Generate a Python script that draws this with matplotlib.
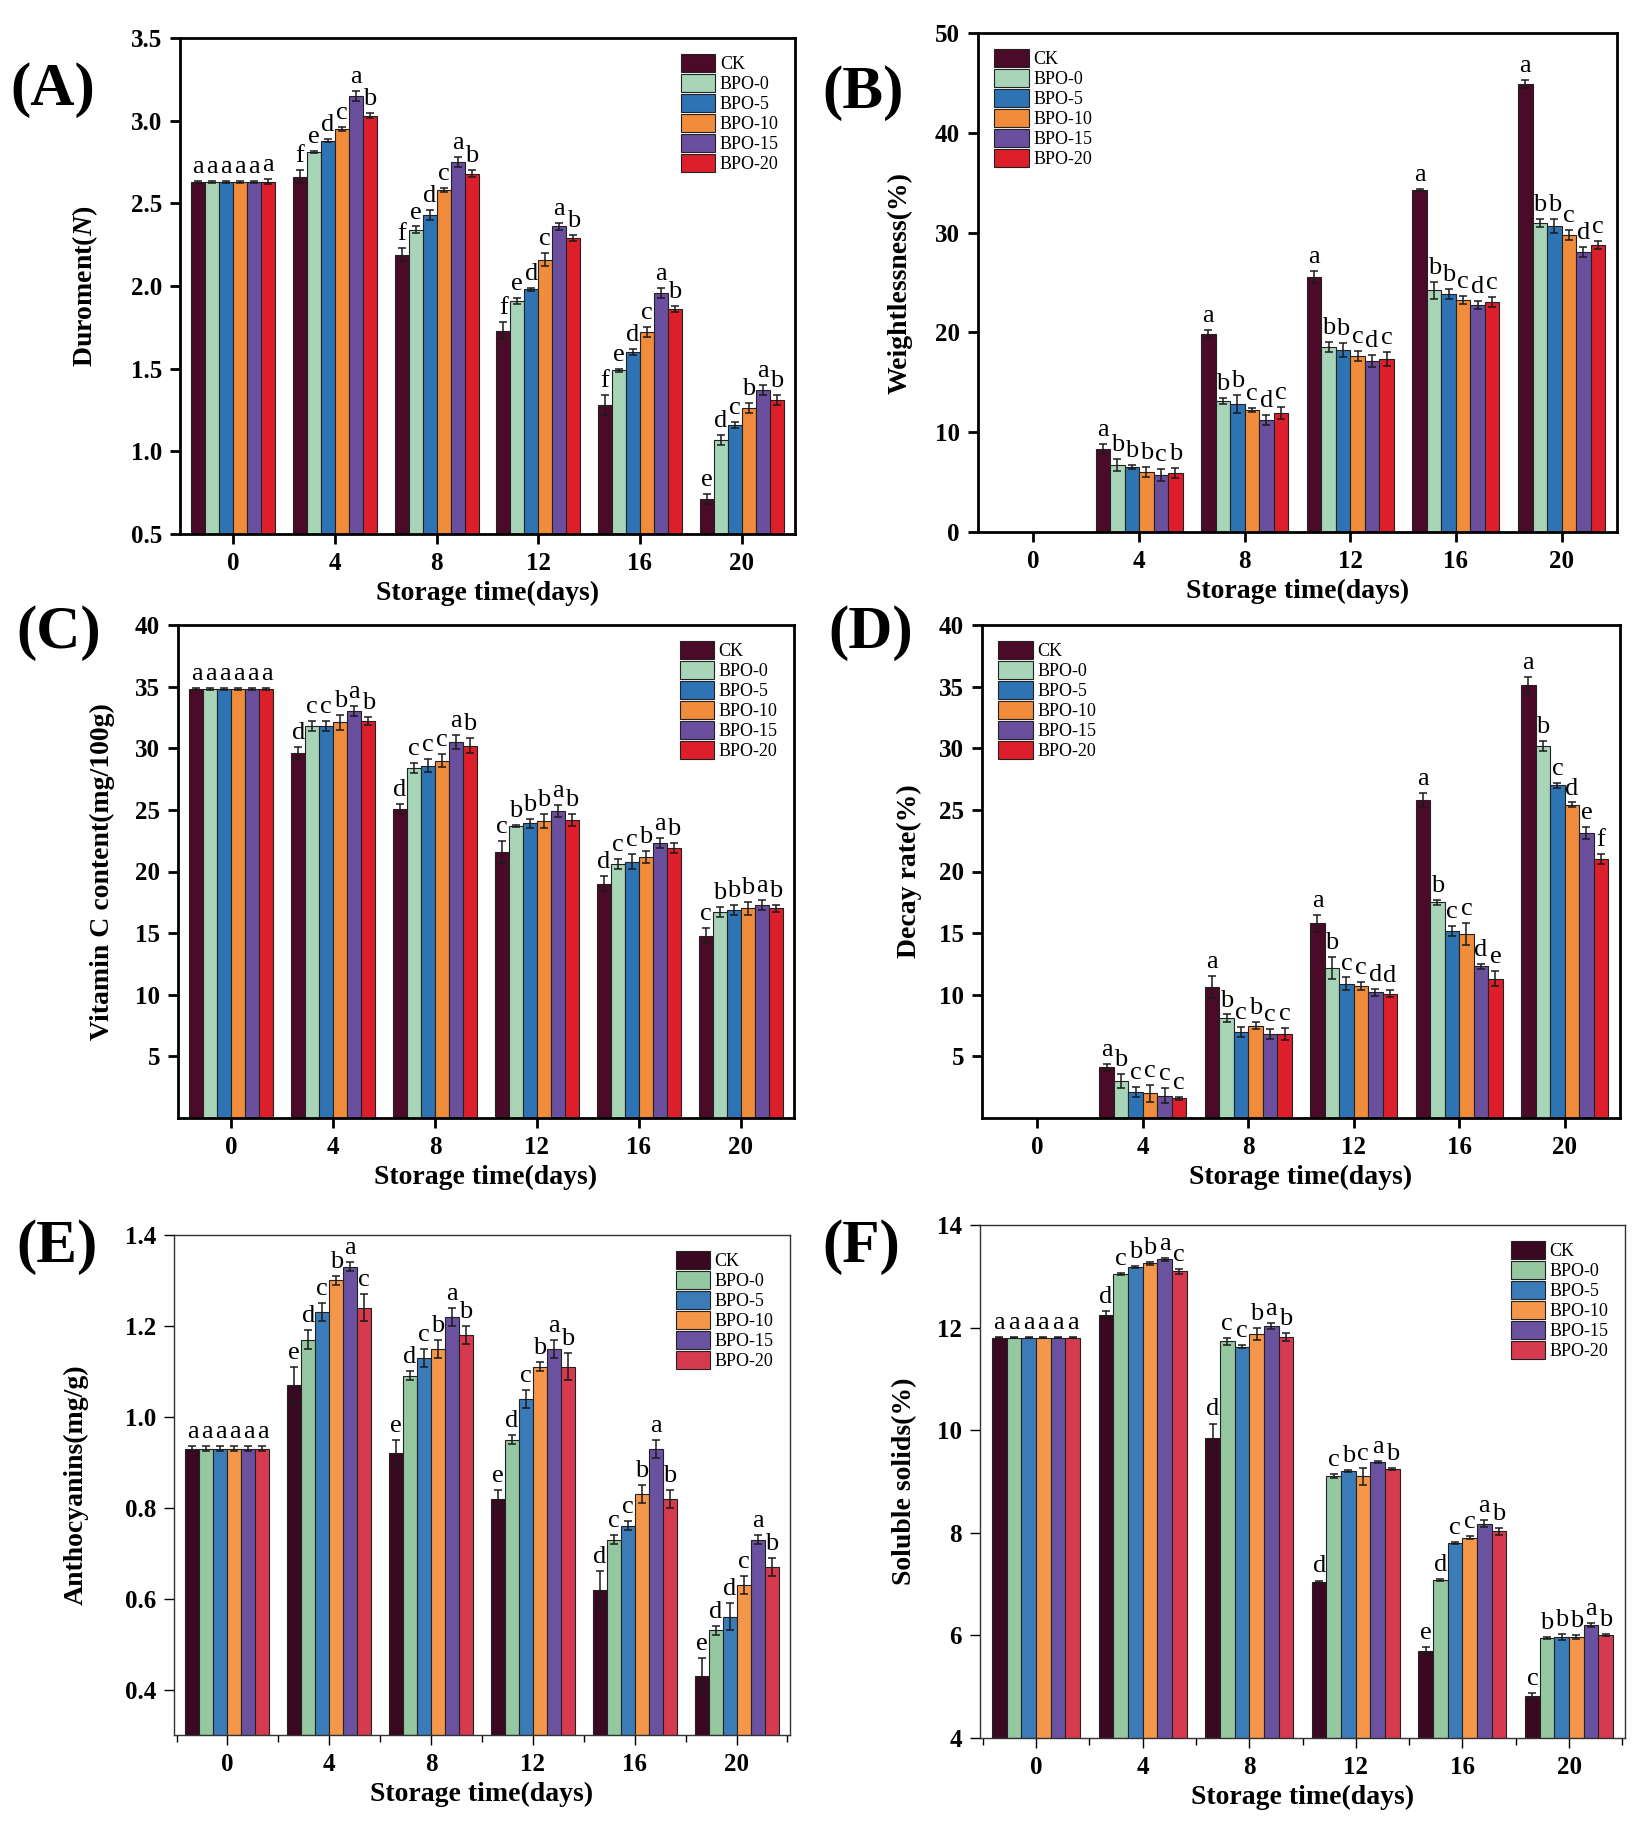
import matplotlib

matplotlib.use("Agg")
import matplotlib.pyplot as plt
import numpy as np
from matplotlib.ticker import FixedLocator

plt.rcParams["font.family"] = ["Liberation Serif", "DejaVu Serif"]
plt.rcParams["mathtext.fontset"] = "custom"
plt.rcParams["mathtext.rm"] = "Liberation Serif:bold"
plt.rcParams["mathtext.it"] = "Liberation Serif:italic:bold"
plt.rcParams["mathtext.bf"] = "Liberation Serif:bold"

DAYS = [0, 4, 8, 12, 16, 20]
GROUPS = ["CK", "BPO-0", "BPO-5", "BPO-10", "BPO-15", "BPO-20"]

# rows = days, columns = groups
firm = [[2.63, 2.63, 2.63, 2.63, 2.63, 2.63],
        [2.66, 2.81, 2.88, 2.95, 3.15, 3.03],
        [2.19, 2.34, 2.43, 2.58, 2.75, 2.68],
        [1.73, 1.91, 1.98, 2.16, 2.36, 2.29],
        [1.28, 1.49, 1.60, 1.72, 1.96, 1.86],
        [0.71, 1.07, 1.16, 1.26, 1.37, 1.31]]
firm_err = [[0.005, 0.005, 0.005, 0.005, 0.005, 0.015],
            [0.04, 0.005, 0.01, 0.01, 0.03, 0.015],
            [0.04, 0.02, 0.03, 0.01, 0.03, 0.02],
            [0.05, 0.02, 0.01, 0.04, 0.02, 0.02],
            [0.06, 0.01, 0.02, 0.03, 0.03, 0.02],
            [0.03, 0.03, 0.02, 0.03, 0.03, 0.03]]
firm_let = ["aaaaaa", "fedcab", "fedcab", "fedcab", "fedcab", "edcbab"]

weight = [[0, 0, 0, 0, 0, 0],
          [8.3, 6.7, 6.5, 6.0, 5.7, 5.9],
          [19.8, 13.1, 12.8, 12.2, 11.2, 11.9],
          [25.6, 18.5, 18.2, 17.6, 17.1, 17.3],
          [34.3, 24.2, 23.8, 23.2, 22.7, 23.0],
          [44.9, 31.0, 30.7, 29.8, 28.1, 28.8]]
weight_err = [[0, 0, 0, 0, 0, 0],
              [0.5, 0.6, 0.2, 0.5, 0.6, 0.5],
              [0.4, 0.3, 0.9, 0.2, 0.5, 0.6],
              [0.6, 0.5, 0.7, 0.5, 0.6, 0.7],
              [0.1, 0.9, 0.5, 0.4, 0.4, 0.5],
              [0.4, 0.4, 0.7, 0.5, 0.5, 0.4]]
weight_let = ["", "abbbcb", "abbcdc", "abbcdc", "abbcdc", "abbcdc"]

vitc = [[34.8, 34.8, 34.8, 34.8, 34.8, 34.8],
        [29.6, 31.8, 31.8, 32.1, 33.0, 32.2],
        [25.1, 28.4, 28.6, 29.0, 30.5, 30.2],
        [21.6, 23.7, 23.9, 24.1, 24.9, 24.2],
        [19.0, 20.6, 20.8, 21.2, 22.3, 21.9],
        [14.8, 16.7, 16.9, 17.0, 17.3, 17.0]]
vitc_err = [[0.1, 0.1, 0.1, 0.1, 0.1, 0.1],
            [0.5, 0.4, 0.4, 0.6, 0.4, 0.3],
            [0.4, 0.4, 0.5, 0.5, 0.6, 0.6],
            [0.9, 0.1, 0.4, 0.6, 0.5, 0.5],
            [0.6, 0.4, 0.6, 0.5, 0.4, 0.4],
            [0.6, 0.4, 0.4, 0.5, 0.4, 0.3]]
vitc_let = ["aaaaaa", "dccbab", "dcccab", "cbbbab", "dccbab", "cbbbab"]

decay = [[0, 0, 0, 0, 0, 0],
         [4.1, 3.0, 2.1, 2.0, 1.8, 1.6],
         [10.6, 8.1, 7.0, 7.5, 6.8, 6.8],
         [15.8, 12.2, 10.9, 10.7, 10.2, 10.1],
         [25.8, 17.5, 15.2, 14.9, 12.3, 11.3],
         [35.1, 30.2, 27.0, 25.4, 23.1, 21.0]]
decay_err = [[0, 0, 0, 0, 0, 0],
             [0.3, 0.6, 0.4, 0.7, 0.6, 0.1],
             [0.9, 0.3, 0.4, 0.3, 0.4, 0.5],
             [0.7, 0.9, 0.5, 0.3, 0.3, 0.3],
             [0.6, 0.2, 0.4, 0.9, 0.2, 0.6],
             [0.7, 0.4, 0.2, 0.2, 0.5, 0.4]]
decay_let = ["", "abcccc", "abcbcc", "abccdd", "abccde", "abcdef"]

antho = [[0.93, 0.93, 0.93, 0.93, 0.93, 0.93],
         [1.07, 1.17, 1.23, 1.30, 1.33, 1.24],
         [0.92, 1.09, 1.13, 1.15, 1.22, 1.18],
         [0.82, 0.95, 1.04, 1.11, 1.15, 1.11],
         [0.62, 0.73, 0.76, 0.83, 0.93, 0.82],
         [0.43, 0.53, 0.56, 0.63, 0.73, 0.67]]
antho_err = [[0.005, 0.005, 0.005, 0.005, 0.005, 0.005],
             [0.04, 0.02, 0.02, 0.01, 0.01, 0.03],
             [0.03, 0.01, 0.02, 0.02, 0.02, 0.02],
             [0.02, 0.01, 0.02, 0.01, 0.02, 0.03],
             [0.04, 0.01, 0.01, 0.02, 0.02, 0.02],
             [0.04, 0.01, 0.03, 0.02, 0.01, 0.02]]
antho_let = ["aaaaaa", "edcbac", "edcbab", "edcbab", "dccbab", "eddcab"]

tss = [[11.8, 11.8, 11.8, 11.8, 11.8, 11.8],
       [12.25, 13.05, 13.18, 13.25, 13.33, 13.1],
       [9.85, 11.73, 11.63, 11.87, 12.03, 11.82],
       [7.05, 9.1, 9.2, 9.1, 9.38, 9.25],
       [5.7, 7.08, 7.8, 7.9, 8.18, 8.03],
       [4.82, 5.95, 5.97, 5.97, 6.2, 6.0]]
tss_err = [[0.01, 0.01, 0.01, 0.01, 0.01, 0.01],
           [0.07, 0.02, 0.02, 0.03, 0.03, 0.05],
           [0.28, 0.07, 0.03, 0.12, 0.05, 0.08],
           [0.02, 0.04, 0.02, 0.17, 0.02, 0.02],
           [0.07, 0.01, 0.02, 0.03, 0.06, 0.07],
           [0.06, 0.02, 0.05, 0.04, 0.04, 0.02]]
tss_let = ["aaaaaa", "dcbbac", "dccbab", "dcbcab", "edccab", "cbbbab"]

COLORS_1 = ["#4a0a28", "#a8d4b8", "#2e73b4", "#f08c3c", "#6a4f9e", "#dc1f2a"]
COLORS_2 = ["#3a0820", "#95c8a0", "#3a7bb8", "#f5974a", "#6b52a0", "#d63a4e"]

W, H = 1639, 1830
BAR_W = 0.55


def box(l, t, r, b):
    return [l / W, 1 - b / H, (r - l) / W, (b - t) / H]


def panel(fig, rect, tag, tag_xy, vals, errs, lets, ylabel, ylim, yticks,
          ytl, legend_loc, colors, ylabel_pad=14, thin=False):
    ax = fig.add_axes(rect)
    vals = np.asarray(vals, float)
    errs = np.asarray(errs, float)
    x = np.asarray(DAYS, float)
    span = ylim[1] - ylim[0]
    lw_sp = 1.0 if thin else 2.0
    for j, g in enumerate(GROUPS):
        xs = x + (j - 2.5) * BAR_W
        v = vals[:, j]
        shown = v > 0
        ax.bar(xs[shown], v[shown] - ylim[0], BAR_W, bottom=ylim[0],
               color=colors[j], edgecolor="#222222", linewidth=0.8,
               label=g, zorder=2)
        ax.errorbar(xs[shown], v[shown], yerr=errs[shown, j], fmt="none",
                    ecolor="#1a1a1a", elinewidth=1.1, capsize=3,
                    capthick=1.1, zorder=3)
        for i in range(len(DAYS)):
            if lets[i]:
                ax.text(xs[i], v[i] + errs[i, j] + 0.006 * span, lets[i][j],
                        ha="center", va="bottom", fontsize=19, zorder=4)
    ax.set_xlim(-2.1, 22.1)
    ax.set_ylim(*ylim)
    ax.set_xticks(DAYS)
    ax.set_xticklabels([str(d) for d in DAYS])
    ax.set_yticks(yticks)
    ax.set_yticklabels(ytl)
    if thin:
        ax.xaxis.set_minor_locator(FixedLocator([-2, 2, 6, 10, 14, 18, 22]))
        ax.tick_params(axis="x", which="minor", direction="out", length=5,
                       width=1.0)
    for s in ax.spines.values():
        s.set_linewidth(lw_sp)
        s.set_color("#333333" if thin else "black")
    ax.tick_params(axis="both", which="major", direction="out", length=7,
                   width=lw_sp, labelsize=18, pad=6)
    for t in ax.get_xticklabels() + ax.get_yticklabels():
        t.set_fontweight("bold")
    ax.set_xlabel("Storage time(days)", fontsize=20, fontweight="bold",
                  labelpad=4)
    ax.set_ylabel(ylabel, fontsize=20, fontweight="bold",
                  labelpad=ylabel_pad)
    ax.legend(loc=legend_loc, frameon=False, fontsize=13, handlelength=1.9,
              handleheight=1.15, labelspacing=0.05, handletextpad=0.25,
              borderaxespad=0.5)
    fig.text(tag_xy[0] / W, 1 - tag_xy[1] / H, tag, fontsize=44,
             fontweight="bold", ha="left", va="center")
    return ax


fig = plt.figure(figsize=(W / 100, H / 100), dpi=100)

panel(fig, box(180, 38, 795, 534), "(A)", (10, 90), firm, firm_err, firm_let,
      r"Duroment($\mathit{N}$)", (0.5, 3.5), np.arange(0.5, 3.51, 0.5),
      [f"{t:.1f}" for t in np.arange(0.5, 3.51, 0.5)], "upper right",
      COLORS_1, ylabel_pad=22)
panel(fig, box(978, 33, 1617, 532), "(B)", (822, 93), weight, weight_err,
      weight_let, "Weightlessness(%)", (0, 50), range(0, 51, 10),
      [str(t) for t in range(0, 51, 10)], "upper left", COLORS_1,
      ylabel_pad=16)
panel(fig, box(178, 625, 794, 1118), "(C)", (16, 633), vitc, vitc_err,
      vitc_let, "Vitamin C content(mg/100g)", (0, 40), range(5, 41, 5),
      [str(t) for t in range(5, 41, 5)], "upper right", COLORS_1,
      ylabel_pad=14)
panel(fig, box(982, 625, 1620, 1118), "(D)", (828, 633), decay, decay_err,
      decay_let, "Decay rate(%)", (0, 40), range(5, 41, 5),
      [str(t) for t in range(5, 41, 5)], "upper left", COLORS_1,
      ylabel_pad=12)
panel(fig, box(174, 1235, 790, 1735), "(E)", (16, 1247), antho, antho_err,
      antho_let, "Anthocyanins(mg/g)", (0.3, 1.4), np.arange(0.4, 1.41, 0.2),
      [f"{t:.1f}" for t in np.arange(0.4, 1.41, 0.2)], "upper right",
      COLORS_2, ylabel_pad=26, thin=True)
panel(fig, box(980, 1225, 1625, 1738), "(F)", (822, 1247), tss, tss_err,
      tss_let, "Soluble solids(%)", (4, 14), range(4, 15, 2),
      [str(t) for t in range(4, 15, 2)], "upper right", COLORS_2,
      ylabel_pad=14, thin=True)

fig.savefig("out.png", dpi=100)
